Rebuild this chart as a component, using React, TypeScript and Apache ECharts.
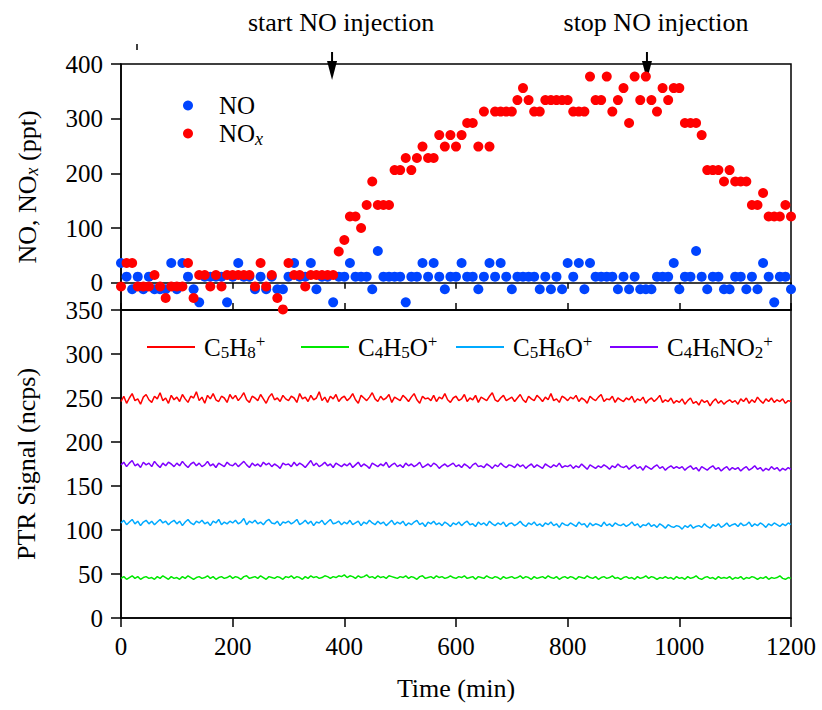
import React, { useEffect, useRef } from 'react';
import * as echarts from 'echarts';

const FONT = '"Liberation Serif", "Times New Roman", serif';

// ---- top panel: NO / NOx (ppt), every 10 min from 0 to 1200 ----
const noStep = 10;
const noValues = [
  36, 11, -12, 11, -12, 11, -12, -12, -12, 36,
  -12, 36, 11, -12, -36, 11, 11, 11, 11, -36,
  11, 36, 11, 11, -12, 11, -12, 11, -12, -12,
  11, 36, 11, 11, 36, -12, 11, 11, -36, 11,
  11, 36, 11, 11, 11, -12, 58, 11, 11, 11,
  11, -36, 11, 11, 36, 11, 36, 11, -12, 11,
  11, 36, 11, 11, -12, 11, 36, 11, 36, 11,
  -12, 11, 11, 11, 11, -12, 11, -12, 11, -12,
  36, 11, 36, -12, 36, 11, 11, 11, 11, -12,
  11, -12, 11, -12, -12, -12, 11, 11, 11, 36,
  -12, 11, 11, 58, 11, -12, 11, 11, -12, -12,
  11, 11, -12, 11, -12, 36, 11, -36, 11, 11,
  -12,
];
const noxValues = [
  -7, 36, 36, -7, -7, -7, 14, -7, -28, -7,
  -7, -7, 36, -28, 14, 14, -7, 14, -7, 14,
  14, 14, 14, 14, -7, 36, -7, 14, -28, -49,
  36, 14, 14, -7, 14, 14, 14, 14, 14, 57,
  78, 121, 121, 100, 142, 185, 142, 142, 142, 206,
  206, 228, 206, 228, 249, 228, 228, 270, 249, 270,
  249, 270, 292, 292, 249, 313, 249, 313, 313, 313,
  313, 334, 356, 334, 313, 313, 334, 334, 334, 334,
  334, 313, 313, 313, 377, 334, 334, 377, 313, 334,
  356, 292, 377, 334, 377, 334, 313, 356, 334, 356,
  356, 292, 292, 292, 270, 206, 206, 206, 185, 206,
  185, 185, 185, 142, 142, 164, 121, 121, 121, 142,
  121,
];

// ---- bottom panel: PTR signals (ncps), every 5 min from 0 to 1200 ----
const ptrStep = 5;
const c5h8 = [
  246,252,244,250,255,247,249,243,251,254,248,245,252,249,256,247,250,244,253,248,
  251,246,254,249,245,252,250,257,247,251,244,253,249,255,248,246,252,250,245,254,
  249,253,247,251,256,248,245,252,250,247,254,249,244,251,255,248,250,246,253,249,
  247,252,250,245,255,249,251,246,253,248,250,257,247,251,245,252,249,254,246,250,
  252,247,250,255,248,244,253,250,247,251,256,249,246,252,248,250,254,245,251,249,
  247,253,250,246,251,255,248,244,252,249,250,247,253,246,251,249,255,248,245,250,
  252,247,249,254,246,250,248,253,245,251,249,247,252,256,248,246,250,253,247,249,
  251,246,250,254,248,245,252,249,247,253,250,246,251,248,255,247,249,245,252,250,
  247,251,249,253,246,250,248,244,252,249,247,251,254,246,249,248,252,245,250,248,
  246,250,248,252,245,249,247,251,244,248,250,246,249,253,245,248,246,250,244,247,
  245,249,243,247,250,244,246,242,248,245,247,241,246,249,244,247,243,246,248,245,
  247,243,249,246,250,244,248,245,251,247,244,249,246,250,245,248,246,249,244,247,
  246,
];
const c4h5o = [
  45,47,44,46,48,45,47,44,46,47,45,46,44,47,45,48,46,44,47,45,
  46,44,47,45,48,46,44,46,47,45,46,48,45,47,44,46,47,45,46,48,
  45,47,46,44,47,48,45,46,47,45,48,46,44,47,46,45,47,46,44,47,
  46,48,45,47,46,44,47,45,48,46,47,45,46,48,47,45,47,46,48,47,
  49,46,48,47,45,48,46,47,49,46,47,45,48,46,47,45,48,47,46,45,
  47,46,48,45,47,46,44,47,48,45,46,47,45,48,46,47,45,46,48,46,
  45,47,46,48,45,46,47,44,47,46,45,48,46,45,47,46,44,47,45,46,
  47,45,46,48,45,47,46,44,47,45,46,47,45,48,46,45,47,44,46,47,
  45,47,46,44,47,46,45,48,46,45,47,44,46,47,45,46,48,45,46,44,
  46,47,45,46,44,47,45,46,48,45,47,46,44,46,45,47,45,46,44,47,
  45,46,44,47,45,46,48,45,44,46,47,45,46,44,47,45,46,45,47,44,
  46,45,47,44,46,45,47,46,44,46,45,47,44,46,45,46,48,45,44,46,
  45,
];
const c5h6o = [
  108,111,106,109,112,107,110,105,109,111,107,110,106,109,112,108,110,106,109,111,
  107,110,105,109,112,108,106,110,108,111,107,109,105,110,108,112,106,109,107,110,
  108,111,107,109,113,106,110,108,111,107,109,106,110,112,108,107,110,105,109,108,
  110,107,109,112,106,108,111,107,110,105,109,108,111,106,109,112,107,108,110,106,
  109,107,111,106,108,110,105,109,107,111,108,106,110,107,109,105,108,111,106,109,
  107,110,105,108,106,109,111,106,108,104,109,107,110,106,108,105,109,107,104,108,
  106,109,105,108,110,106,107,104,109,106,108,105,110,107,105,108,106,109,104,107,
  108,105,107,110,106,104,108,106,109,105,107,104,108,106,109,105,107,103,108,106,
  105,108,106,104,109,106,107,103,108,105,107,106,104,109,105,107,104,108,106,105,
  107,104,106,109,105,107,103,106,105,108,104,106,103,107,105,102,106,104,103,105,
  104,101,105,103,106,102,104,105,103,107,104,102,106,104,107,103,105,108,104,106,
  107,104,108,105,106,109,104,107,105,108,106,103,107,105,108,106,104,107,105,108,
  106,
];
const c4h6no2 = [
  174,177,172,176,179,173,175,171,177,174,176,172,178,174,171,176,173,177,175,172,
  176,173,178,174,171,175,177,173,176,172,174,178,173,175,171,176,174,172,177,174,
  173,176,172,175,178,174,171,176,173,175,172,177,174,176,172,175,173,170,176,174,
  175,172,177,173,176,174,171,175,179,173,176,172,174,177,173,175,171,176,174,172,
  175,173,176,171,174,177,172,175,173,170,176,174,172,175,173,177,171,174,176,172,
  174,171,176,173,175,172,174,177,171,173,175,172,176,174,170,173,175,172,174,176,
  172,174,171,175,173,170,174,176,172,173,171,175,173,170,174,172,176,173,171,174,
  173,171,175,172,174,170,173,175,171,174,172,170,175,173,171,174,172,176,171,173,
  172,174,170,173,171,175,172,169,174,172,170,173,171,174,172,169,173,171,175,172,
  171,173,169,172,174,170,172,168,173,171,169,172,174,170,172,168,171,173,170,172,
  170,172,168,171,173,169,171,167,172,170,168,171,173,169,171,167,170,172,168,171,
  169,171,167,170,172,168,170,173,169,171,167,170,168,172,169,171,167,170,168,171,
  169,
];

const xTicks = { min: 0, max: 1200, interval: 200 };
const topYTicks = [0, 100, 200, 300, 400];
const topYRange = { min: -50, max: 400 };
const bottomYRange = { min: 0, max: 350, interval: 50 };

const startInjection = 378;
const stopInjection = 942;

const ptrSeries = [
  { name: 'C5H8+', values: c5h8, color: '#ff0000', label: '{b|C}{s|5}{b|H}{s|8}{p|+}' },
  { name: 'C4H5O+', values: c4h5o, color: '#00e800', label: '{b|C}{s|4}{b|H}{s|5}{b|O}{p|+}' },
  { name: 'C5H6O+', values: c5h6o, color: '#00aaff', label: '{b|C}{s|5}{b|H}{s|6}{b|O}{p|+}' },
  { name: 'C4H6NO2+', values: c4h6no2, color: '#7f00ff', label: '{b|C}{s|4}{b|H}{s|6}{b|NO}{s|2}{p|+}' },
];

const toPairs = (vals: number[], step: number) => vals.map((v, i) => [i * step, v]);

const makeRich = (base: number) => ({
  b: { fontSize: base, fontFamily: FONT, color: '#000', lineHeight: 28 },
  s: { fontSize: 17, fontFamily: FONT, color: '#000', lineHeight: 9, verticalAlign: 'bottom' },
  p: { fontSize: 17, fontFamily: FONT, color: '#000', lineHeight: 4, verticalAlign: 'top' },
  i: { fontSize: 18, fontFamily: FONT, fontStyle: 'italic', color: '#000', lineHeight: 11, verticalAlign: 'bottom' },
});

const axisLineStyle = { color: '#000', width: 1.5 };
const labelStyle = { fontSize: 25, fontFamily: FONT, color: '#000' };
const plain = (v: number) => String(v);

export default function App() {
  const ref = useRef<HTMLDivElement>(null);
  useEffect(() => {
    if (!ref.current) return;
    const chart = echarts.init(ref.current, null, { renderer: 'svg' });
    const legendLefts = [142, 296, 451, 605];
    const option: any = {
      animation: false,
      backgroundColor: '#fff',
      grid: [
        { left: 121, right: 31, top: 64, height: 246, show: true, borderColor: '#000', borderWidth: 1.5 },
        { left: 121, right: 31, top: 310, height: 308, show: true, borderColor: '#000', borderWidth: 1.5 },
      ],
      xAxis: [
        {
          gridIndex: 0, type: 'value', ...xTicks, position: 'bottom',
          axisLine: { show: true, lineStyle: axisLineStyle },
          axisTick: { show: true, inside: false, length: 6, lineStyle: axisLineStyle },
          axisLabel: { show: false }, splitLine: { show: false },
        },
        {
          gridIndex: 1, type: 'value', ...xTicks, position: 'bottom',
          axisLine: { show: true, lineStyle: axisLineStyle },
          axisTick: { show: true, inside: false, length: 9, lineStyle: axisLineStyle },
          axisLabel: { ...labelStyle, margin: 16, formatter: plain },
          splitLine: { show: false },
          name: 'Time (min)', nameLocation: 'middle', nameGap: 57,
          nameTextStyle: { fontSize: 26, fontFamily: FONT, color: '#000' },
        },
        {
          gridIndex: 1, type: 'value', ...xTicks, position: 'top',
          axisLine: { show: true, lineStyle: axisLineStyle },
          axisTick: { show: true, inside: false, length: 7, lineStyle: axisLineStyle },
          axisLabel: { show: false }, splitLine: { show: false },
        },
      ],
      yAxis: [
        {
          gridIndex: 0, type: 'value', ...topYRange,
          axisLine: { show: true, lineStyle: axisLineStyle },
          axisTick: { show: true, inside: false, length: 10, lineStyle: axisLineStyle, customValues: topYTicks },
          axisLabel: { ...labelStyle, margin: 18, customValues: topYTicks, formatter: plain },
          splitLine: { show: false },
          name: '{b|NO, NO}{i|x}{b| (ppt)}', nameLocation: 'middle', nameGap: 80, nameRotate: 90,
          nameTextStyle: { rich: makeRich(26) },
        },
        {
          gridIndex: 1, type: 'value', ...bottomYRange,
          axisLine: { show: true, lineStyle: axisLineStyle },
          axisTick: { show: true, inside: false, length: 10, lineStyle: axisLineStyle },
          axisLabel: { ...labelStyle, margin: 18, formatter: plain },
          splitLine: { show: false },
          name: 'PTR Signal (ncps)', nameLocation: 'middle', nameGap: 82, nameRotate: 90,
          nameTextStyle: { fontSize: 26, fontFamily: FONT, color: '#000' },
        },
      ],
      legend: [
        {
          data: ['NO', 'NOx'], orient: 'vertical', left: 178, top: 88,
          itemWidth: 10, itemHeight: 10, itemGap: 3, icon: 'circle',
          formatter: (n: string) => (n === 'NOx' ? '{b|NO}{i|x}' : '{b|NO}'),
          textStyle: { rich: makeRich(25), padding: [0, 0, 0, 21] },
        },
        ...ptrSeries.map((s, k) => ({
          data: [s.name], left: legendLefts[k], top: 328,
          itemWidth: 48, itemHeight: 2, icon: 'rect',
          formatter: () => s.label,
          textStyle: { rich: makeRich(25), padding: [0, 0, 0, 4] },
        })),
      ],
      series: [
        {
          name: 'NO', type: 'scatter', xAxisIndex: 0, yAxisIndex: 0,
          data: toPairs(noValues, noStep), symbolSize: 10,
          itemStyle: { color: '#0044ff', opacity: 1 },
        },
        {
          name: 'NOx', type: 'scatter', xAxisIndex: 0, yAxisIndex: 0,
          data: toPairs(noxValues, noStep), symbolSize: 10,
          itemStyle: { color: '#ff0000', opacity: 1 },
        },
        ...ptrSeries.map((s) => ({
          name: s.name, type: 'line', xAxisIndex: 1, yAxisIndex: 1,
          data: toPairs(s.values, ptrStep), symbol: 'none', showSymbol: false,
          lineStyle: { color: s.color, width: 1.5 }, itemStyle: { color: s.color },
        })),
      ],
    };
    chart.setOption(option);

    const arrow = (t: number, text: string) => {
      const p = chart.convertToPixel({ gridIndex: 0 }, [t, 400]) as number[];
      const x = p[0];
      return [
        {
          type: 'text', x: x + 9, y: 22,
          style: { text, fontSize: 26, fontFamily: FONT, fill: '#000', align: 'center', verticalAlign: 'middle', textAlign: 'center', textVerticalAlign: 'middle' },
        },
        { type: 'line', shape: { x1: x, y1: 52, x2: x, y2: 66 }, style: { stroke: '#000', lineWidth: 2 } },
        { type: 'polygon', shape: { points: [[x - 5, 61], [x + 5, 61], [x, 80]] }, style: { fill: '#000' } },
      ];
    };
    chart.setOption({
      graphic: [
        ...arrow(startInjection, 'start NO injection'),
        ...arrow(stopInjection, 'stop NO injection'),
        { type: 'line', shape: { x1: 137, y1: 44, x2: 137, y2: 50 }, style: { stroke: '#000', lineWidth: 1.5 } },
      ],
    });
    return () => chart.dispose();
  }, []);
  return <div ref={ref} style={{ position: 'fixed', left: 0, top: 0, width: 822, height: 710 }} />;
}
